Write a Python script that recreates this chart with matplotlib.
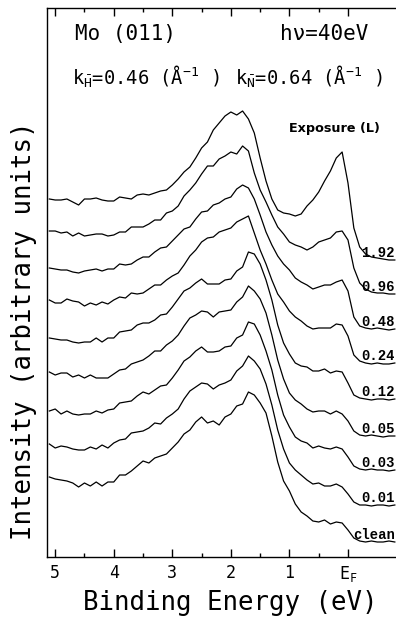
import matplotlib.pyplot as plt

# Fonts: plotter-like monospace for the axis texts
plt.rcParams['font.family'] = 'DejaVu Sans Mono'
plt.rcParams['mathtext.fontset'] = 'custom'
plt.rcParams['mathtext.rm'] = 'DejaVu Sans Mono'
plt.rcParams['mathtext.it'] = 'DejaVu Sans Mono'
plt.rcParams['mathtext.default'] = 'rm'

# Binding energy (eV) of the sampled points
energy = [5.1, 5.0, 4.9, 4.8, 4.7, 4.6, 4.5, 4.4, 4.3, 4.2,
          4.1, 4.0, 3.9, 3.8, 3.7, 3.6, 3.5, 3.4, 3.3, 3.2,
          3.1, 3.0, 2.9, 2.8, 2.7, 2.6, 2.5, 2.4, 2.3, 2.2,
          2.1, 2.0, 1.9, 1.8, 1.7, 1.6, 1.5, 1.4, 1.3, 1.2,
          1.1, 1.0, 0.9, 0.8, 0.7, 0.6, 0.5, 0.4, 0.3, 0.2,
          0.1, 0.0, -0.1, -0.2, -0.3, -0.4, -0.5, -0.6, -0.7, -0.8]

# Stacked spectra (arbitrary units), one per hydrogen exposure
clean = [80, 78, 77, 76, 74, 70, 74, 71, 75, 71,
         75, 75, 82, 82, 86, 91, 96, 94, 99, 101,
         103, 109, 115, 123, 127, 135, 140, 134, 136, 132,
         140, 143, 151, 153, 165, 162, 154, 144, 121, 95,
         76, 66, 53, 45, 41, 36, 35, 37, 33, 35,
         34, 27, 19, 16, 15, 16, 15, 15, 16, 15]
exp_001 = [113, 109, 111, 110, 108, 107, 107, 110, 108, 112,
           109, 114, 117, 118, 124, 125, 126, 129, 134, 133,
           139, 143, 148, 158, 166, 170, 174, 173, 168, 172,
           174, 177, 186, 191, 201, 196, 188, 173, 152, 127,
           108, 94, 87, 82, 77, 73, 74, 71, 71, 73,
           70, 63, 55, 52, 52, 51, 52, 52, 51, 52]
exp_003 = [146, 148, 143, 146, 143, 142, 143, 143, 146, 144,
           147, 148, 154, 155, 156, 161, 165, 163, 167, 171,
           172, 179, 187, 196, 200, 206, 210, 205, 205, 206,
           210, 211, 219, 222, 235, 233, 222, 206, 187, 162,
           142, 130, 120, 116, 114, 109, 111, 109, 108, 110,
           108, 100, 91, 88, 87, 88, 87, 87, 86, 87]
exp_005 = [185, 182, 184, 184, 180, 182, 179, 182, 179, 179,
           179, 183, 187, 188, 193, 195, 197, 201, 206, 206,
           212, 216, 222, 231, 239, 242, 246, 245, 240, 245,
           246, 247, 255, 260, 271, 266, 258, 244, 222, 197,
           178, 164, 157, 153, 148, 145, 146, 146, 143, 146,
           143, 136, 126, 122, 121, 122, 121, 120, 121, 121]
exp_012 = [219, 218, 217, 217, 215, 214, 215, 215, 219, 215,
           219, 219, 225, 226, 227, 232, 234, 234, 237, 242,
           243, 250, 258, 266, 269, 274, 278, 273, 273, 273,
           277, 278, 286, 290, 305, 303, 293, 277, 257, 232,
           214, 203, 194, 191, 190, 186, 186, 188, 184, 186,
           185, 174, 162, 159, 158, 157, 158, 158, 157, 158]
exp_024 = [257, 254, 254, 258, 256, 255, 251, 254, 252, 255,
           253, 257, 260, 259, 264, 263, 264, 268, 272, 272,
           277, 281, 284, 292, 301, 307, 315, 319, 320, 325,
           327, 329, 335, 338, 341, 324, 307, 293, 277, 263,
           255, 246, 240, 236, 231, 228, 229, 229, 229, 233,
           232, 221, 202, 196, 194, 193, 194, 193, 193, 194]
exp_048 = [289, 288, 287, 287, 285, 284, 286, 287, 288, 286,
           288, 288, 293, 292, 293, 297, 300, 300, 305, 309,
           310, 316, 322, 328, 330, 338, 345, 346, 352, 354,
           358, 360, 368, 372, 369, 358, 342, 325, 312, 301,
           293, 287, 279, 275, 272, 268, 270, 272, 272, 275,
           277, 266, 240, 231, 229, 228, 229, 228, 227, 228]
exp_096 = [326, 326, 324, 325, 321, 324, 321, 322, 323, 323,
           321, 322, 325, 325, 330, 330, 330, 333, 337, 337,
           344, 346, 351, 361, 367, 374, 383, 391, 391, 398,
           401, 405, 403, 411, 406, 384, 367, 355, 342, 330,
           323, 315, 312, 310, 307, 310, 315, 317, 319, 325,
           326, 317, 289, 274, 268, 265, 264, 264, 263, 263]
exp_192 = [358, 357, 357, 358, 355, 352, 358, 358, 359, 357,
           356, 356, 360, 359, 358, 362, 363, 362, 364, 366,
           367, 372, 378, 385, 390, 399, 409, 415, 427, 434,
           441, 445, 442, 446, 438, 424, 399, 376, 358, 347,
           344, 343, 341, 343, 351, 357, 365, 376, 386, 399,
           405, 374, 329, 310, 303, 300, 299, 298, 297, 297]

spectra = [clean, exp_001, exp_003, exp_005, exp_012, exp_024, exp_048, exp_096, exp_192]
labels = ['clean', '0.01', '0.03', '0.05', '0.12', '0.24', '0.48', '0.96', '1.92']

tick_pos = [5, 4, 3, 2, 1, 0]
tick_labels = ['5', '4', '3', '2', '1', r'E$_{\mathrm{F}}$']
minor_pos = [4.5, 3.5, 2.5, 1.5, 0.5]

fig = plt.figure(figsize=(3.96, 6.23), dpi=100)
ax = fig.add_axes([47 / 396, 66 / 623, 349 / 396, 549 / 623])

for y, lab in zip(spectra, labels):
    ax.plot(energy, y, color='black', lw=0.9)
    ax.annotate(lab, xy=(energy[-1], y[-1]), xytext=(0, 2.5), textcoords='offset points',
                ha='right', va='baseline', fontsize=10, fontweight='bold',
                family='Liberation Mono')

ax.set_xlim(5.14, -0.82)
ax.set_ylim(0, 549)

# Ticks only on the energy axis, pointing inwards (top and bottom)
ax.set_xticks(tick_pos)
ax.set_xticklabels(tick_labels)
ax.set_xticks(minor_pos, minor=True)
ax.tick_params(axis='x', which='major', direction='in', length=5.8, width=1,
               top=True, labelsize=12, pad=5)
ax.tick_params(axis='x', which='minor', direction='in', length=2.8, width=1, top=True)
ax.set_yticks([])
ax.spines['right'].set_visible(False)
for s in ['left', 'top', 'bottom']:
    ax.spines[s].set_linewidth(1.0)

ax.set_xlabel('Binding Energy (eV)', fontsize=18.5)
ax.xaxis.set_label_coords(0.524, -0.060)
ax.set_ylabel('Intensity (arbitrary units)', fontsize=18.5)
ax.yaxis.set_label_coords(-0.03, 0.412)

# Header texts
ax.text(0.080, 0.953, 'Mo (011)', transform=ax.transAxes, fontsize=15, va='center')
ax.text(0.920, 0.953, 'h\u03bd=40eV', transform=ax.transAxes, fontsize=15, va='center', ha='right')
ax.text(0.072, 0.874, r'k$_{\bar{\mathrm{H}}}$=0.46 (Å$^{-1}$ )', transform=ax.transAxes,
        fontsize=13.5, va='center')
ax.text(0.539, 0.874, r'k$_{\bar{\mathrm{N}}}$=0.64 (Å$^{-1}$ )', transform=ax.transAxes,
        fontsize=13.5, va='center')
ax.text(0.825, 0.781, 'Exposure (L)', transform=ax.transAxes, fontsize=9.2,
        fontweight='bold', family='DejaVu Sans', ha='center', va='center')

plt.savefig('out.png', dpi=100)
